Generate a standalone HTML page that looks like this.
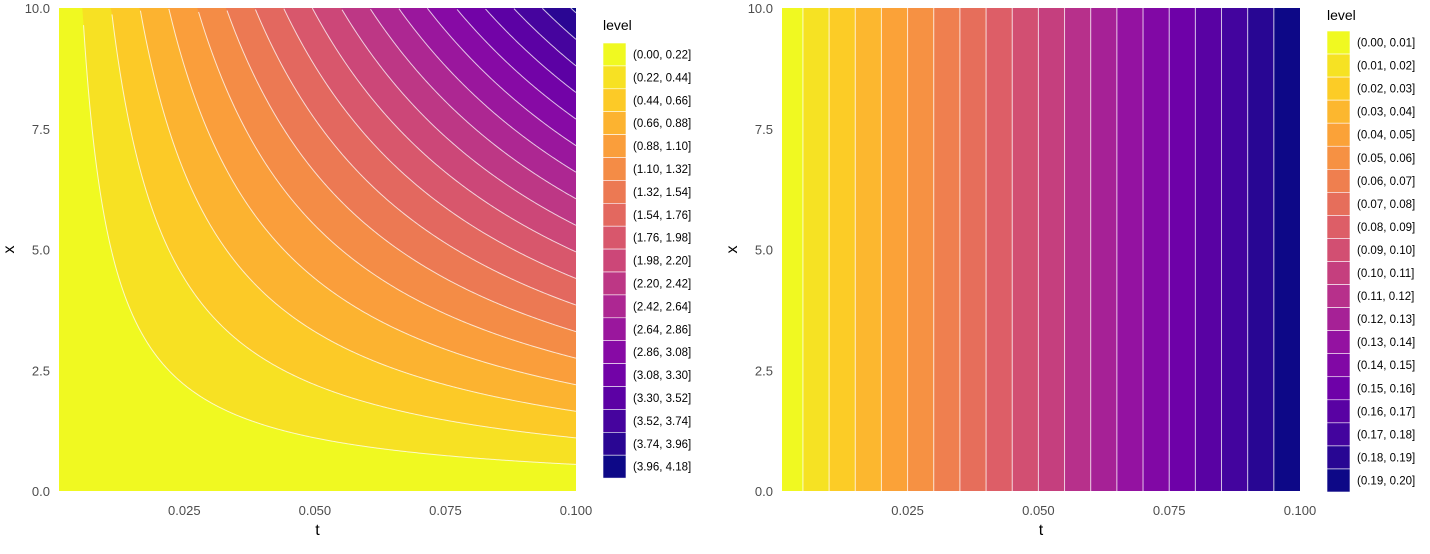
<!DOCTYPE html>
<html><head><meta charset="utf-8"><style>
body{margin:0;background:#fff;}
svg text{font-family:"Liberation Sans",sans-serif;}
</style></head><body>
<svg id="s" width="1430" height="549" xmlns="http://www.w3.org/2000/svg"></svg>
<script>
// data
const leftBreaks=[0,0.22,0.44,0.66,0.88,1.10,1.32,1.54,1.76,1.98,2.20,2.42,2.64,2.86,3.08,3.30,3.52,3.74,3.96,4.18];
const rightBreaks=[0,0.01,0.02,0.03,0.04,0.05,0.06,0.07,0.08,0.09,0.10,0.11,0.12,0.13,0.14,0.15,0.16,0.17,0.18,0.19,0.20];
const leftK=4;      // level = k * x * t
const rightK=2;     // level = k * t
const tTicks=[0.025,0.050,0.075,0.100];
const xTicks=[0,2.5,5,7.5,10];
const tMin=0.001,tMax=0.1,xMin=0,xMax=10;

const NS="http://www.w3.org/2000/svg";
const svg=document.getElementById('s');
function el(tag,attrs,parent){const e=document.createElementNS(NS,tag);for(const k in attrs)e.setAttribute(k,attrs[k]);(parent||svg).appendChild(e);return e;}
const stops=["#0d0887","#41049d","#6a00a8","#8f0da4","#b12a90","#cc4778","#e16462","#f2844b","#fca636","#fcce25","#f0f921"];
function hex(h){return [1,3,5].map(i=>parseInt(h.substr(i,2),16));}
function plasma(v){const p=v*10,i=Math.min(9,Math.floor(p)),f=p-i;const a=hex(stops[i]),b=hex(stops[i+1]);return 'rgb('+a.map((c,j)=>Math.round(c+(b[j]-c)*f)).join(',')+')';}
function colorFor(i,n){return plasma(1-i/(n-1));}

function panel(L,R,T,B,name){
  const sx=t=>L+(t-tMin)/(tMax-tMin)*(R-L);
  const sy=x=>B-(x-xMin)/(xMax-xMin)*(B-T);
  const g=el('g',{},svg);
  
  
  tTicks.forEach(t=>{const tx=el('text',{x:sx(t),y:B+24,'text-anchor':'middle','font-size':13,fill:'#4d4d4d'},g);tx.textContent=t.toFixed(3);
    });
  xTicks.forEach(x=>{const tx=el('text',{x:L-9,y:sy(x)+5,'text-anchor':'end','font-size':13,fill:'#4d4d4d'},g);tx.textContent=x.toFixed(1);
    });
  const xt=el('text',{x:(L+R)/2,y:B+44,'text-anchor':'middle','font-size':16,fill:'#000'},g);xt.textContent='t';
  
  const yt=el('text',{x:0,y:0,'text-anchor':'middle','font-size':16,fill:'#000',transform:`translate(${L-45},${(T+B)/2}) rotate(-90)`},g);yt.textContent='x';
  
  return {sx,sy,g};
}
function legend(breaks,kx,ktop,kh,ty,name){
  const g=el('g',{},svg);
  
  
  const t=el('text',{x:kx,y:ty,'font-size':14,fill:'#000'},g);t.textContent='level';
  
  const n=breaks.length-1;
  for(let i=0;i<n;i++){
    const r=el('rect',{x:kx,y:ktop+i*kh,width:23,height:kh,fill:colorFor(i,n),stroke:'#fff','stroke-width':0.6},g);
    
    const d=(breaks[1]-breaks[0])<0.05?2:2;
    const lb=el('text',{x:kx+30,y:ktop+i*kh+kh/2+4,'font-size':11.5,fill:'#000'},g);
    lb.textContent='('+breaks[i].toFixed(d)+', '+breaks[i+1].toFixed(d)+']';
    
  }
}
// left panel
{const P=panel(59,576,8,491,'left-contour-panel');const n=leftBreaks.length-1;
 for(let i=0;i<n;i++){
   const lo=leftBreaks[i];const pts=[];
   if(lo<=0){pts.push([tMin,xMin],[tMax,xMin]);}
   else{for(let j=0;j<=400;j++){const t=tMin+(tMax-tMin)*j/400;const x=Math.min(xMax,lo/(leftK*t));pts.push([t,x]);}}
   pts.push([tMax,xMax],[tMin,xMax]);
   const poly=el('polygon',{points:pts.map(p=>P.sx(p[0])+','+P.sy(p[1])).join(' '),fill:colorFor(i,n)},P.g);
   
 }
 for(let i=1;i<n;i++){const lo=leftBreaks[i];const pts=[];
   for(let j=0;j<=400;j++){const t=tMin+(tMax-tMin)*j/400;const x=lo/(leftK*t);if(x<=xMax)pts.push(P.sx(t)+','+P.sy(x));}
   if(pts.length>1){const pl=el('polyline',{points:pts.join(' '),fill:'none',stroke:'#fff','stroke-opacity':0.75,'stroke-width':1},P.g);
   }}
}
legend(leftBreaks,603,43,22.9,30,'left-legend');
// right panel
{const P=panel(782,1300,8,491,'right-contour-panel');const n=rightBreaks.length-1;
 for(let i=0;i<n;i++){
   const t0=Math.max(tMin,rightBreaks[i]/rightK),t1=Math.min(tMax,rightBreaks[i+1]/rightK);
   if(t1<=t0)continue;
   const r=el('rect',{x:P.sx(t0),y:P.sy(xMax),width:P.sx(t1)-P.sx(t0),height:P.sy(xMin)-P.sy(xMax),fill:colorFor(i,n)},P.g);
   
   if(i>0){const ln=el('line',{x1:P.sx(t0),x2:P.sx(t0),y1:P.sy(xMax),y2:P.sy(xMin),stroke:'#fff','stroke-opacity':0.75,'stroke-width':1},P.g);
   }
 }
}
legend(rightBreaks,1327,31,23.05,20,'right-legend');
</script>
</body></html>
